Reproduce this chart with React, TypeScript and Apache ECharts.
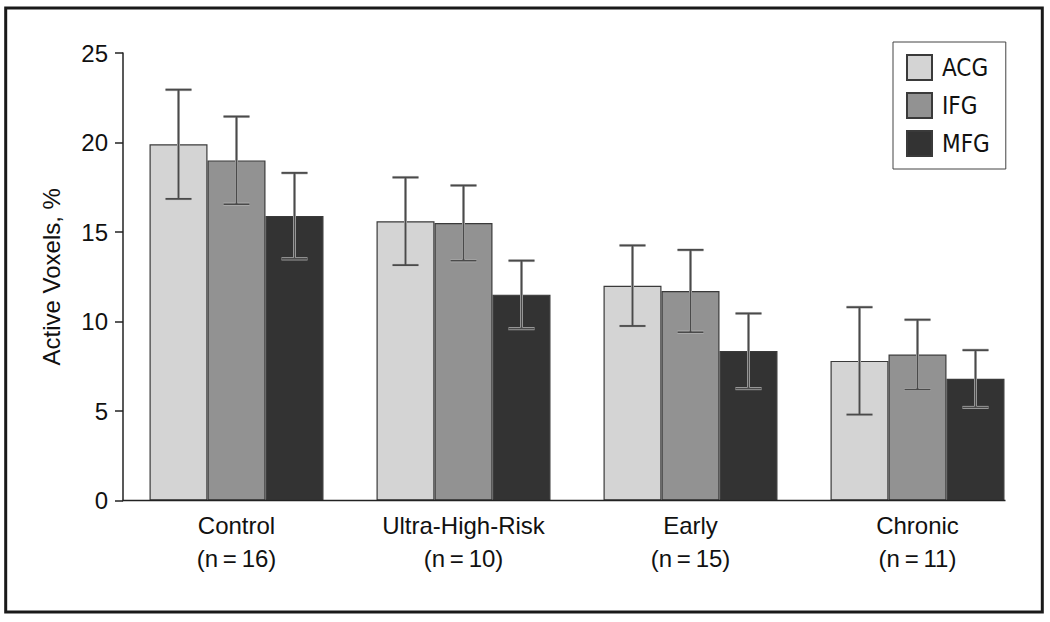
import React, { useEffect, useRef } from "react";
import * as echarts from "echarts";

const categories = [
  "Control\n(n\u2009=\u200916)",
  "Ultra-High-Risk\n(n\u2009=\u200910)",
  "Early\n(n\u2009=\u200915)",
  "Chronic\n(n\u2009=\u200911)",
];
const seriesNames = ["ACG", "IFG", "MFG"];
const acgValues = [19.9, 15.6, 12.0, 7.8];
const acgErrors = [3.05, 2.45, 2.25, 3.0];
const ifgValues = [19.0, 15.5, 11.7, 8.15];
const ifgErrors = [2.45, 2.1, 2.3, 1.95];
const mfgValues = [15.9, 11.5, 8.35, 6.8];
const mfgErrors = [2.4, 1.9, 2.1, 1.6];
const yTicks = { min: 0, max: 25, interval: 5 };

const colors = ["#d4d4d4", "#929292", "#333333"];
const FONT = "'Liberation Sans', Arial, sans-serif";
const NARROW = "'Liberation Sans Narrow', 'DejaVu Sans Condensed', sans-serif";
const BAR_W = 58;

export default function App() {
  const ref = useRef<HTMLDivElement>(null);
  useEffect(() => {
    if (!ref.current) return;
    const chart = echarts.init(ref.current, null, { renderer: "svg" });
    const values = [acgValues, ifgValues, mfgValues];
    const errors = [acgErrors, ifgErrors, mfgErrors];
    const errData: number[][] = [];
    values.forEach((vals, s) => {
      vals.forEach((v, c) => {
        errData.push([c, s, v - errors[s][c], v + errors[s][c]]);
      });
    });
    const option: any = {
      animation: false,
      backgroundColor: "#ffffff",
      textStyle: { fontFamily: FONT },
      grid: { left: 123, right: 19, top: 53, bottom: 121.5, containLabel: false },
      legend: {
        orient: "vertical",
        left: 893,
        top: 42,
        data: seriesNames,
        itemWidth: 25,
        itemHeight: 25,
        itemGap: 11,
        padding: [12, 16, 12, 13],
        borderColor: "#444",
        borderWidth: 1,
        icon: "rect",
        textStyle: { fontFamily: NARROW, fontSize: 24, color: "#111", padding: [0, 0, 0, 5] },
      },
      xAxis: {
        type: "category",
        data: categories,
        axisLine: { show: false },
        axisTick: { show: false },
        axisLabel: {
          fontSize: 24,
          color: "#111",
          fontFamily: FONT,
          lineHeight: 33,
          margin: 8,
          interval: 0,
        },
      },
      yAxis: {
        type: "value",
        min: yTicks.min,
        max: yTicks.max,
        interval: yTicks.interval,
        name: "Active Voxels, %",
        nameLocation: "middle",
        nameGap: 60,
        nameRotate: 90,
        nameTextStyle: { fontSize: 24, color: "#111", fontFamily: FONT, padding: [0, 0, 0, 0] },
        axisLine: { show: true, lineStyle: { color: "#222", width: 1.5 } },
        axisTick: { show: true, length: 8, lineStyle: { color: "#222", width: 1.5 } },
        axisLabel: { fontSize: 24, color: "#111", margin: 15, fontFamily: FONT },
        splitLine: { show: false },
      },
      series: [
        ...seriesNames.map((name, s) => ({
          name,
          type: "bar",
          data: values[s],
          barWidth: BAR_W,
          barGap: "0%",
          itemStyle: { color: colors[s], borderColor: "#3a3a3a", borderWidth: 1.2 },
          z: 2,
        })),
        {
          type: "custom",
          name: "err",
          data: errData,
          z: 5,
          encode: { x: 0, y: [2, 3] },
          renderItem: (params: any, api: any) => {
            const c = api.value(0);
            const s = api.value(1);
            const lo = api.coord([c, api.value(2)]);
            const hi = api.coord([c, api.value(3)]);
            const x = lo[0] + (s - 1) * BAR_W;
            const hw = 13;
            const mk = (stroke: string, w: number) => [
              { type: "line", shape: { x1: x, y1: hi[1], x2: x, y2: lo[1] }, style: { stroke, lineWidth: w } },
              { type: "line", shape: { x1: x - hw, y1: hi[1], x2: x + hw, y2: hi[1] }, style: { stroke, lineWidth: w } },
              { type: "line", shape: { x1: x - hw, y1: lo[1], x2: x + hw, y2: lo[1] }, style: { stroke, lineWidth: w } },
            ];
            return {
              type: "group",
              children: [...mk("#c8c8c8", 3.0), ...mk("#4a4a4a", 1.8)],
            };
          },
        },
      ],
      graphic: [
        {
          type: "line",
          shape: { x1: 122.5, y1: 500.5, x2: 1005.5, y2: 500.5 },
          style: { stroke: "#222", lineWidth: 1.5 },
          z: 10,
        },
        {
          type: "rect",
          shape: { x: 5.7, y: 8, width: 1036.6, height: 604 },
          style: { fill: "none", stroke: "#1a1a1a", lineWidth: 3 },
          z: 10,
        },
      ],
    };
    chart.setOption(option);
    return () => chart.dispose();
  }, []);
  return (
    <div
      ref={ref}
      style={{ position: "fixed", left: 0, top: 0, width: 1050, height: 622 }}
    />
  );
}
